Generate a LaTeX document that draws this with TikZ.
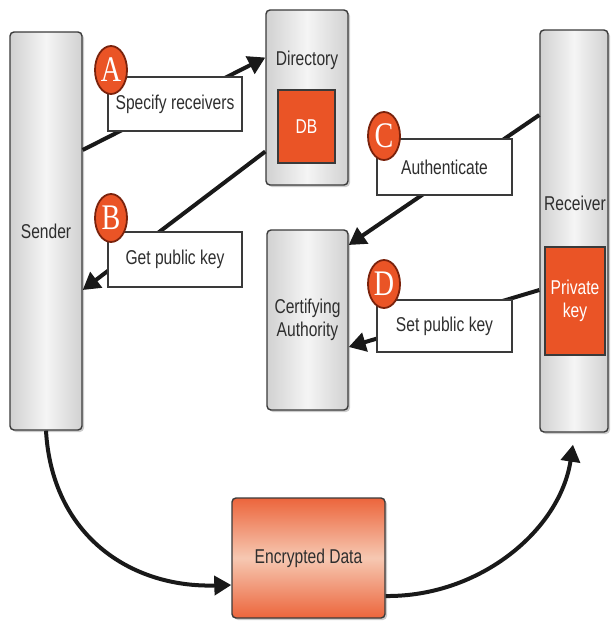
\documentclass[tikz,border=0pt]{standalone}
\usepackage{fontspec}
\setmainfont{Liberation Sans}[FakeStretch=0.78]
\newfontfamily\letterfont{Liberation Serif}[FakeStretch=0.78]
\usetikzlibrary{shadows,arrows.meta,calc,shapes.geometric}
\definecolor{myorange}{HTML}{EA5426}
\definecolor{myborder}{HTML}{3A3A3A}
\definecolor{circborder}{HTML}{7A220C}
\definecolor{lightorange}{HTML}{F6C8B2}
\definecolor{txt}{HTML}{2E2E2E}
\begin{document}
\begin{tikzpicture}[x=1pt,y=-1pt,
  graybox/.style={draw=myborder, line width=1.4pt, rounded corners=4pt,
    top color=gray!36, bottom color=gray!36, middle color=gray!8,
    shading angle=90, drop shadow={shadow xshift=2pt,shadow yshift=-2pt,opacity=0.4},
    inner sep=0pt, font=\fontsize{20}{23}\selectfont, text=txt, align=center},
  orangebox/.style={draw=myborder, line width=1.2pt, fill=myorange, inner sep=0pt,
    text=white, font=\fontsize{20}{23}\selectfont, align=center},
  labelbox/.style={draw=myborder, line width=1.4pt, fill=white, inner sep=0pt,
    font=\fontsize{20}{23}\selectfont, text=txt},
  letter/.style={ellipse, draw=circborder, line width=1.8pt, fill=myorange,
    minimum width=32pt, minimum height=48pt, inner sep=0pt, text=white,
    font=\letterfont\fontsize{36}{38}\selectfont},
  conn/.style={line width=4pt, black!90},
  arr/.style={conn, -{Triangle[length=17pt,width=19pt]}},
]
\useasboundingbox (0,0) rectangle (611,624);

% nodes
\node[graybox, minimum width=72pt, minimum height=398pt] (sender) at (46,231) {Sender};
\node[graybox, minimum width=82pt, minimum height=175pt] (dir) at (307,97.5) {};
\node[font=\fontsize{20}{23}\selectfont, text=txt] (dirlabel) at (307,60) {Directory};
\node[orangebox, minimum width=57pt, minimum height=73pt] (db) at (306.5,126.5) {DB};
\node[graybox, minimum width=81pt, minimum height=180pt] (ca) at (307.5,320) {Certifying\\Authority};
\node[graybox, minimum width=68pt, minimum height=402pt] (recv) at (574,231) {};
\node[font=\fontsize{20}{23}\selectfont, text=txt] (recvlabel) at (575,203) {Receiver};
\node[orangebox, minimum width=60pt, minimum height=108pt] (pk) at (575,301) {Private\\key};
\node[draw=myborder, line width=1.4pt, rounded corners=4pt,
  top color=myorange!90, bottom color=myorange!90, middle color=lightorange,
  drop shadow={shadow xshift=2pt,shadow yshift=-2pt,opacity=0.4},
  minimum width=153pt, minimum height=120pt, inner sep=0pt,
  font=\fontsize{20}{23}\selectfont, text=txt] (enc) at (308.5,558) {Encrypted Data};

% connectors (behind label boxes)
\draw[arr] ([yshift=81pt]sender.east) -- ([yshift=40pt]dir.west);
\draw[arr] ([yshift=-54pt]dir.west) -- ([yshift=-59pt]sender.east);
\draw[arr] ([yshift=116pt]recv.west) -- ([yshift=75pt]ca.east);
\draw[arr] ([yshift=-59pt]recv.west) -- ([yshift=-27pt]ca.east);
\draw[arr] (sender.south) .. controls (52,535) and (130,588) .. ([yshift=-27pt]enc.west);
\draw[arr] ([yshift=-38pt]enc.east) .. controls (480,597) and (560,530) .. ([xshift=-1pt,yshift=-12pt]recv.south);

% label boxes
\node[labelbox, minimum width=134pt, minimum height=54pt] (lA) at (175,104) {Specify receivers};
\node[labelbox, minimum width=134pt, minimum height=55pt] (lB) at (175,259.5) {Get public key};
\node[labelbox, minimum width=135pt, minimum height=56pt] (lC) at (444.5,167) {Authenticate};
\node[labelbox, minimum width=135pt, minimum height=52pt] (lD) at (444.5,326) {Set public key};

% letters
\node[letter] (A) at (111,70) {A};
\node[letter] (B) at (111,218) {B};
\node[letter] (C) at (384,136) {C};
\node[letter] (D) at (384,284) {D};
\end{tikzpicture}
\end{document}
